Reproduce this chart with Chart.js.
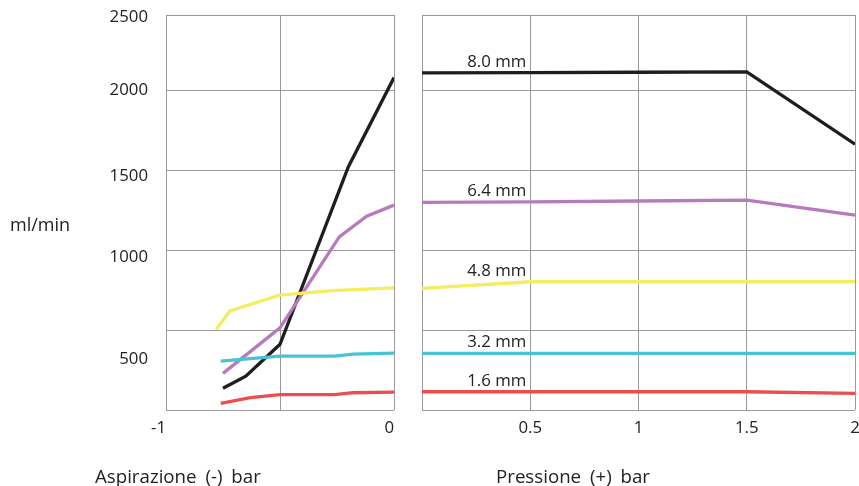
<!DOCTYPE html>
<html>
<head>
<meta charset="utf-8">
<script src="https://cdn.jsdelivr.net/npm/chart.js@4/dist/chart.umd.min.js"></script>
<style>
  html, body { margin: 0; padding: 0; background: #fff; }
  body { width: 859px; height: 486px; position: relative; overflow: hidden; font-family: "Open Sans", sans-serif; color: #222; }
  canvas { position: absolute; top: 0; }
  #cLeft { left: 0; }
  #cRight { left: 400px; }
  .lbl { position: absolute; font-size: 18.7px; white-space: nowrap; line-height: normal; color: #222; word-spacing: 4px; }
</style>
</head>
<body>
<canvas id="cLeft" width="400" height="486"></canvas>
<canvas id="cRight" width="459" height="486"></canvas>
<div class="lbl" id="yTitle" style="left:10px; top:212px; font-size:18px;">ml/min</div>
<div class="lbl" id="xTitleL" style="left:95px; top:463px;">Aspirazione (-) bar</div>
<div class="lbl" id="xTitleR" style="left:496px; top:463px;">Pressione (+) bar</div>
<script>
// ---- data ----
const seriesNames = ['1.6 mm', '3.2 mm', '4.8 mm', '6.4 mm', '8.0 mm'];
const seriesColors = ['#ee4d4f', '#46c3d5', '#f3ed5f', '#b77bbd', '#1e1e1e'];

// Aspirazione (-) bar : [bar, ml/min]
const suction16 = [[-0.76, 42], [-0.63, 77], [-0.5, 96], [-0.26, 96], [-0.18, 108], [0, 112]];
const suction32 = [[-0.76, 306], [-0.5, 337], [-0.26, 337], [-0.18, 350], [0, 356]];
const suction48 = [[-0.78, 504], [-0.72, 619], [-0.5, 719], [-0.27, 746], [0, 764]];
const suction64 = [[-0.75, 229], [-0.5, 514], [-0.24, 1083], [-0.12, 1212], [0, 1281]];
const suction80 = [[-0.75, 136], [-0.65, 212], [-0.5, 411], [-0.2, 1521], [0, 2079]];

// Pressione (+) bar : [bar, ml/min]
const pressure16 = [[0, 114], [0.5, 114], [1, 114], [1.5, 114], [2, 104]];
const pressure32 = [[0, 354], [0.5, 354], [1, 354], [1.5, 354], [2, 354]];
const pressure48 = [[0, 761], [0.5, 802], [1, 802], [1.5, 802], [2, 802]];
const pressure64 = [[0, 1298], [0.5, 1302], [1, 1307], [1.5, 1312], [2, 1219]];
const pressure80 = [[0, 2108], [0.5, 2110], [1, 2112], [1.5, 2114], [2, 1662]];

// axes
const yMin = 0, yMax = 2470;
const yGridValues = [0, 500, 1000, 1500, 2000, 2470];
const yTickLabels = ['500', '1000', '1500', '2000', '2500'];
const yTickLabelAt = [319, 956, 1462, 2000, 2456]; // where the printed labels sit on the scale
const suctionTicks = [-1, -0.5, 0];
const suctionTickLabels = ['-1', '', '0'];
const pressureTicks = [0, 0.5, 1, 1.5, 2];
const pressureTickLabels = ['', '0.5', '1', '1.5', '2'];
const labelAtX = 0.5;

// ---- build ----
Chart.defaults.font.family = '"Open Sans", sans-serif';
Chart.defaults.color = '#222';
const GRID = '#9a9a9a';
const TICK_FONT = { size: 16.8 };

const toPts = arr => arr.map(p => ({ x: p[0], y: p[1] }));
function makeSets(list) {
  return list.map((d, i) => ({
    label: seriesNames[i],
    data: toPts(d),
    borderColor: seriesColors[i],
    backgroundColor: seriesColors[i],
    borderWidth: 3.3,
    pointRadius: 0,
    tension: 0,
    fill: false,
    borderCapStyle: 'butt',
    borderJoinStyle: 'miter',
    yAxisID: 'y'
  }));
}

function xAxis(min, max, values, labels, align) {
  return {
    type: 'linear', min, max, position: 'bottom',
    afterBuildTicks: s => { s.ticks = values.map(v => ({ value: v })); },
    afterFit: s => { s.height = 76; s.paddingLeft = 0; s.paddingRight = 0; },
    ticks: { font: TICK_FONT, padding: 8, maxRotation: 0, autoSkip: false, align,
      callback: (v, i) => labels[i] },
    grid: { color: GRID, lineWidth: 1, drawTicks: false },
    border: { display: false }
  };
}
function yGridAxis() {
  return {
    type: 'linear', min: yMin, max: yMax, position: 'left', weight: 0,
    afterBuildTicks: s => { s.ticks = yGridValues.map(v => ({ value: v })); },
    afterFit: s => { s.width = 0; s.paddingTop = 0; s.paddingBottom = 0; },
    ticks: { display: false },
    grid: { color: GRID, lineWidth: 1, drawTicks: false },
    border: { display: false }
  };
}

const lineLabels = {
  id: 'lineLabels',
  afterDatasetsDraw(chart) {
    const ctx = chart.ctx;
    const xs = chart.scales.x;
    ctx.save();
    ctx.font = '16.8px "Open Sans", sans-serif';
    ctx.fillStyle = '#222';
    ctx.textAlign = 'right';
    ctx.textBaseline = 'alphabetic';
    chart.data.datasets.forEach((ds, i) => {
      const meta = chart.getDatasetMeta(i);
      const idx = ds.data.findIndex(p => p.x === labelAtX);
      if (idx < 0) return;
      const el = meta.data[idx];
      ctx.fillText(ds.label, xs.getPixelForValue(labelAtX) - 4, el.y - 6);
    });
    ctx.restore();
  }
};

new Chart(document.getElementById('cLeft'), {
  type: 'line',
  data: { datasets: makeSets([suction16, suction32, suction48, suction64, suction80]) },
  options: {
    responsive: false, animation: false, devicePixelRatio: 1,
    layout: { padding: { top: 15, right: 6, left: 0, bottom: 0 } },
    plugins: { legend: { display: false }, tooltip: { enabled: false } },
    scales: {
      x: xAxis(-1, 0, suctionTicks, suctionTickLabels, 'end'),
      y: yGridAxis(),
      yLab: {
        type: 'linear', min: yMin, max: yMax, position: 'left', weight: 1,
        afterBuildTicks: s => { s.ticks = yTickLabelAt.map(v => ({ value: v })); },
        afterFit: s => { s.width = 166; s.paddingTop = 0; s.paddingBottom = 0; },
        ticks: { font: TICK_FONT, padding: 18, callback: (v, i) => yTickLabels[i] },
        grid: { display: false, drawTicks: false },
        border: { display: false }
      }
    }
  }
});

new Chart(document.getElementById('cRight'), {
  type: 'line',
  data: { datasets: makeSets([pressure16, pressure32, pressure48, pressure64, pressure80]) },
  options: {
    responsive: false, animation: false, devicePixelRatio: 1,
    layout: { padding: { top: 15, right: 4, left: 22, bottom: 0 } },
    plugins: { legend: { display: false }, tooltip: { enabled: false } },
    scales: {
      x: xAxis(0, 2, pressureTicks, pressureTickLabels, 'center'),
      y: yGridAxis()
    }
  },
  plugins: [lineLabels]
});
</script>
</body>
</html>
